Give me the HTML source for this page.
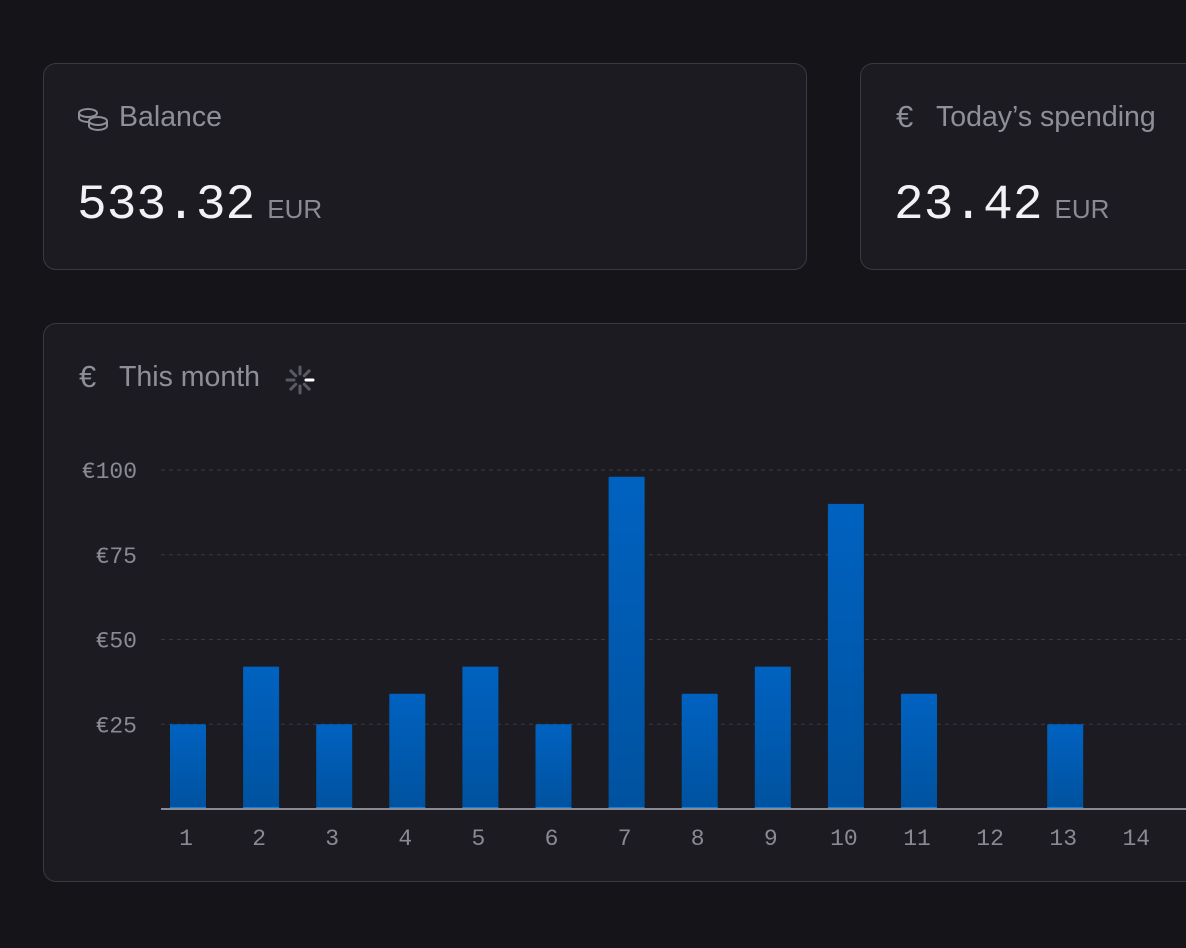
<!DOCTYPE html>
<html><head><meta charset="utf-8">
<style>
html,body{margin:0;padding:0;background:#141419;width:1186px;height:948px;overflow:hidden;font-family:"Liberation Sans",sans-serif}
.card{position:absolute;background:#1b1b21;border:1.5px solid #3a3a43;border-radius:13px;box-sizing:border-box}
.cut{border-right:none;border-top-right-radius:0;border-bottom-right-radius:0}
.title{position:absolute;color:#8f8f9a;font-size:28.5px;white-space:nowrap}
.euro{font-size:31px}
.num{position:absolute;color:#f2f2f5;font-family:"Liberation Mono",monospace;font-size:49.5px;white-space:nowrap}
.num span{font-family:"Liberation Sans",sans-serif;font-size:26px;color:#8a8a95;margin-left:12px}
</style></head><body>
<div class="card" style="left:43px;top:63px;width:764px;height:207px">
  <svg style="position:absolute;left:33px;top:42px" width="34" height="26" viewBox="0 0 34 26" fill="none" stroke="#8f8f9a" stroke-width="2"><ellipse cx="11" cy="7" rx="9" ry="4"/><path d="M2 7v5c0 2 4 4 9 4"/><ellipse cx="21" cy="15" rx="9" ry="4"/><path d="M12 15v5c0 2 4 4 9 4s9-2 9-4v-5"/></svg>
  <div class="title" style="left:75px;top:37px">Balance</div>
  <div class="num" style="left:33px;top:113px">533.32<span>EUR</span></div>
</div>
<div class="card cut" style="left:860px;top:63px;width:326px;height:207px">
  <div class="title euro" style="left:35px;top:35px">€</div>
  <div class="title" style="left:75px;top:37px">Today’s spending</div>
  <div class="num" style="left:33px;top:113px">23.42<span>EUR</span></div>
</div>
<div class="card cut" style="left:43px;top:323px;width:1143px;height:559px">
  <div class="title euro" style="left:35px;top:35px">€</div>
  <div class="title" style="left:75px;top:37px">This month</div>
  <svg style="position:absolute;left:238px;top:38px" width="36" height="36" viewBox="-18 -18 36 36" stroke-linecap="round" stroke-width="3">
    <g id="sp"></g>
  </svg>
</div>
<svg id="chart" style="position:absolute;left:0;top:0" width="1186" height="948"></svg>
<script>
const days=[1,2,3,4,5,6,7,8,9,10,11,12,13,14];
const amounts=[25,42,25,34,42,25,98,34,42,90,34,0,25,0];
const yTicks=[25,50,75,100];
const yTickLabels=["€25","€50","€75","€100"];
const NS="http://www.w3.org/2000/svg";
const svg=document.getElementById('chart');
const y0=809, pxPer=3.39;
const yScale=v=>y0-v*pxPer;
const xScale=d=>188+73.1*(d-1);
function mk(t,a){const e=document.createElementNS(NS,t);for(const k in a)e.setAttribute(k,a[k]);svg.appendChild(e);return e;}
const defs=document.createElementNS(NS,'defs');
defs.innerHTML='<linearGradient id="bg" x1="0" y1="0" x2="0" y2="1"><stop offset="0" stop-color="#0062c0"/><stop offset="1" stop-color="#00529f"/></linearGradient>';
svg.appendChild(defs);
yTicks.forEach((v,i)=>{
  const g=mk('line',{x1:161,x2:1186,y1:yScale(v),y2:yScale(v),stroke:'#3b3b44','stroke-dasharray':'4 4','stroke-width':1});
  
  
  const t=mk('text',{x:137,y:yScale(v)+8,'text-anchor':'end',fill:'#8a8a94','font-size':23,'font-family':'Liberation Mono, monospace'});
  t.textContent=yTickLabels[i];
  
  
});
days.forEach((d,i)=>{
  const v=amounts[i];
  if(v>0){
    const r=mk('rect',{x:xScale(d)-18,y:yScale(v),width:36,height:v*pxPer,fill:'url(#bg)',rx:1});
    
    
    const b=mk('rect',{x:xScale(d)-18,y:y0-2,width:36,height:2,fill:'#0a84e0'});
    
    
  }
  const t=mk('text',{x:xScale(d)-2,y:845,'text-anchor':'middle',fill:'#8a8a94','font-size':23,'font-family':'Liberation Mono, monospace'});
  t.textContent=String(d);
  
  
});
const ax=mk('line',{x1:161,x2:1186,y1:y0,y2:y0,stroke:'#8a8a94','stroke-width':2});


const sp=document.getElementById('sp');
for(let k=0;k<8;k++){
  const a=k*Math.PI/4-Math.PI/2;
  const l=document.createElementNS(NS,'line');
  l.setAttribute('x1',6*Math.cos(a));l.setAttribute('y1',6*Math.sin(a));
  l.setAttribute('x2',13*Math.cos(a));l.setAttribute('y2',13*Math.sin(a));
  l.setAttribute('stroke',k==2?'#ffffff':'#5a5a63');
  
  
  sp.appendChild(l);
}
</script>
</body></html>
